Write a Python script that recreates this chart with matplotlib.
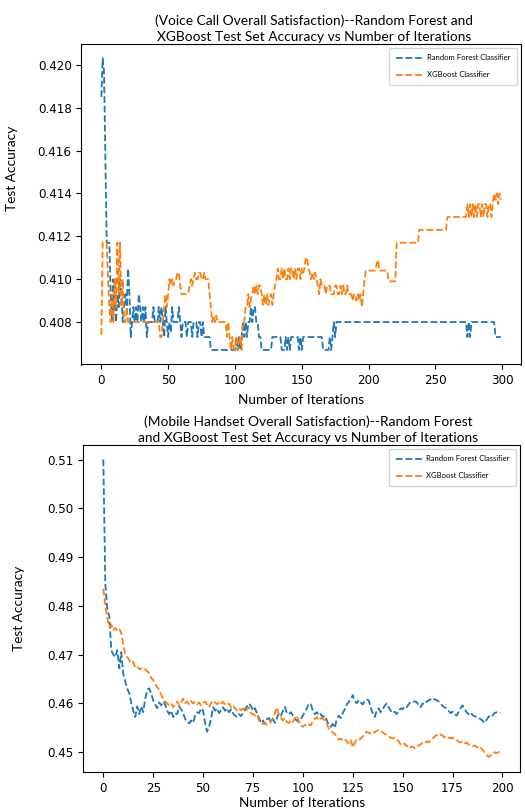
import numpy as np
import matplotlib
matplotlib.use("Agg")
import matplotlib.pyplot as plt

# ---- data: voice call satisfaction (300 iterations) ----
rf_voice = [
    0.4185, 0.4203, 0.4197, 0.4158, 0.4117, 0.4117, 0.4117, 0.4093, 0.4080, 0.4100,
    0.4087, 0.4080, 0.4093, 0.4087, 0.4100, 0.4093, 0.4080, 0.4087, 0.4093, 0.4087,
    0.4105, 0.4093, 0.4073, 0.4080, 0.4087, 0.4080, 0.4087, 0.4080, 0.4093, 0.4087,
    0.4080, 0.4087, 0.4080, 0.4087, 0.4073, 0.4080, 0.4080, 0.4080, 0.4080, 0.4087,
    0.4080, 0.4080, 0.4080, 0.4087, 0.4080, 0.4087, 0.4080, 0.4073, 0.4087, 0.4080,
    0.4073, 0.4080, 0.4075, 0.4087, 0.4080, 0.4080, 0.4080, 0.4080, 0.4087, 0.4080,
    0.4073, 0.4080, 0.4080, 0.4080, 0.4073, 0.4080, 0.4080, 0.4080, 0.4073, 0.4080,
    0.4080, 0.4080, 0.4073, 0.4080, 0.4080, 0.4073, 0.4080, 0.4073, 0.4073, 0.4073,
    0.4073, 0.4073, 0.4067, 0.4067, 0.4067, 0.4067, 0.4067, 0.4067, 0.4067, 0.4067,
    0.4067, 0.4067, 0.4067, 0.4067, 0.4067, 0.4067, 0.4067, 0.4067, 0.4067, 0.4067,
    0.4067, 0.4073, 0.4067, 0.4073, 0.4067, 0.4073, 0.4080, 0.4073, 0.4080, 0.4073,
    0.4080, 0.4080, 0.4087, 0.4080, 0.4087, 0.4087, 0.4080, 0.4080, 0.4073, 0.4073,
    0.4067, 0.4067, 0.4067, 0.4067, 0.4067, 0.4067, 0.4067, 0.4067, 0.4073, 0.4073,
    0.4073, 0.4073, 0.4073, 0.4073, 0.4073, 0.4067, 0.4067, 0.4067, 0.4073, 0.4067,
    0.4073, 0.4067, 0.4073, 0.4073, 0.4073, 0.4073, 0.4073, 0.4073, 0.4067, 0.4073,
    0.4067, 0.4073, 0.4073, 0.4073, 0.4073, 0.4073, 0.4073, 0.4073, 0.4073, 0.4073,
    0.4073, 0.4073, 0.4073, 0.4073, 0.4073, 0.4073, 0.4067, 0.4067, 0.4067, 0.4067,
    0.4067, 0.4073, 0.4067, 0.4073, 0.4080, 0.4073, 0.4080, 0.4080, 0.4080, 0.4080,
    0.4080, 0.4080, 0.4080, 0.4080, 0.4080, 0.4080, 0.4080, 0.4080, 0.4080, 0.4080,
    0.4080, 0.4080, 0.4080, 0.4080, 0.4080, 0.4080, 0.4080, 0.4080, 0.4080, 0.4080,
    0.4080, 0.4080, 0.4080, 0.4080, 0.4080, 0.4080, 0.4080, 0.4080, 0.4080, 0.4080,
    0.4080, 0.4080, 0.4080, 0.4080, 0.4080, 0.4080, 0.4080, 0.4080, 0.4080, 0.4080,
    0.4080, 0.4080, 0.4080, 0.4080, 0.4080, 0.4080, 0.4080, 0.4080, 0.4080, 0.4080,
    0.4080, 0.4080, 0.4080, 0.4080, 0.4080, 0.4080, 0.4080, 0.4080, 0.4080, 0.4080,
    0.4080, 0.4080, 0.4080, 0.4080, 0.4080, 0.4080, 0.4080, 0.4080, 0.4080, 0.4080,
    0.4080, 0.4080, 0.4080, 0.4080, 0.4080, 0.4080, 0.4080, 0.4080, 0.4080, 0.4080,
    0.4080, 0.4080, 0.4080, 0.4080, 0.4080, 0.4080, 0.4080, 0.4080, 0.4080, 0.4080,
    0.4080, 0.4080, 0.4080, 0.4080, 0.4073, 0.4080, 0.4073, 0.4080, 0.4080, 0.4080,
    0.4080, 0.4080, 0.4080, 0.4080, 0.4080, 0.4080, 0.4080, 0.4080, 0.4080, 0.4080,
    0.4080, 0.4080, 0.4080, 0.4080, 0.4080, 0.4073, 0.4073, 0.4073, 0.4073, 0.4073,
]
xgb_voice = [
    0.4074, 0.4117, 0.4117, 0.4117, 0.4117, 0.4100, 0.4087, 0.4080, 0.4093, 0.4080,
    0.4100, 0.4087, 0.4117, 0.4093, 0.4117, 0.4087, 0.4100, 0.4080, 0.4080, 0.4087,
    0.4080, 0.4080, 0.4080, 0.4080, 0.4080, 0.4080, 0.4080, 0.4080, 0.4080, 0.4080,
    0.4080, 0.4080, 0.4080, 0.4080, 0.4080, 0.4080, 0.4080, 0.4080, 0.4080, 0.4080,
    0.4080, 0.4080, 0.4080, 0.4080, 0.4073, 0.4073, 0.4080, 0.4087, 0.4093, 0.4087,
    0.4093, 0.4100, 0.4097, 0.4100, 0.4097, 0.4100, 0.4100, 0.4103, 0.4103, 0.4097,
    0.4093, 0.4093, 0.4093, 0.4093, 0.4093, 0.4093, 0.4097, 0.4100, 0.4097, 0.4100,
    0.4103, 0.4100, 0.4100, 0.4103, 0.4103, 0.4100, 0.4100, 0.4103, 0.4100, 0.4100,
    0.4100, 0.4093, 0.4087, 0.4080, 0.4083, 0.4080, 0.4083, 0.4080, 0.4080, 0.4080,
    0.4080, 0.4080, 0.4080, 0.4080, 0.4073, 0.4080, 0.4073, 0.4067, 0.4073, 0.4067,
    0.4067, 0.4073, 0.4067, 0.4071, 0.4073, 0.4067, 0.4080, 0.4080, 0.4087, 0.4087,
    0.4093, 0.4087, 0.4091, 0.4093, 0.4097, 0.4093, 0.4097, 0.4093, 0.4097, 0.4097,
    0.4093, 0.4088, 0.4093, 0.4088, 0.4093, 0.4088, 0.4091, 0.4093, 0.4088, 0.4093,
    0.4097, 0.4100, 0.4105, 0.4100, 0.4100, 0.4105, 0.4100, 0.4105, 0.4100, 0.4100,
    0.4105, 0.4100, 0.4105, 0.4105, 0.4100, 0.4105, 0.4100, 0.4105, 0.4105, 0.4100,
    0.4105, 0.4103, 0.4105, 0.4110, 0.4110, 0.4105, 0.4103, 0.4100, 0.4103, 0.4100,
    0.4103, 0.4100, 0.4097, 0.4093, 0.4100, 0.4097, 0.4097, 0.4097, 0.4093, 0.4097,
    0.4097, 0.4097, 0.4093, 0.4093, 0.4093, 0.4097, 0.4097, 0.4093, 0.4093, 0.4097,
    0.4093, 0.4097, 0.4093, 0.4093, 0.4097, 0.4093, 0.4093, 0.4093, 0.4090, 0.4093,
    0.4093, 0.4090, 0.4093, 0.4090, 0.4093, 0.4087, 0.4093, 0.4100, 0.4104, 0.4104,
    0.4104, 0.4104, 0.4104, 0.4104, 0.4104, 0.4104, 0.4107, 0.4109, 0.4104, 0.4104,
    0.4104, 0.4104, 0.4104, 0.4104, 0.4104, 0.4099, 0.4099, 0.4099, 0.4099, 0.4099,
    0.4099, 0.4117, 0.4117, 0.4117, 0.4117, 0.4117, 0.4117, 0.4117, 0.4117, 0.4117,
    0.4117, 0.4117, 0.4117, 0.4117, 0.4117, 0.4117, 0.4117, 0.4117, 0.4123, 0.4123,
    0.4123, 0.4123, 0.4123, 0.4123, 0.4123, 0.4123, 0.4123, 0.4123, 0.4123, 0.4123,
    0.4123, 0.4123, 0.4123, 0.4123, 0.4123, 0.4123, 0.4123, 0.4123, 0.4123, 0.4129,
    0.4129, 0.4129, 0.4129, 0.4129, 0.4129, 0.4129, 0.4129, 0.4129, 0.4129, 0.4129,
    0.4129, 0.4129, 0.4129, 0.4129, 0.4135, 0.4129, 0.4135, 0.4129, 0.4135, 0.4129,
    0.4135, 0.4129, 0.4135, 0.4135, 0.4129, 0.4135, 0.4129, 0.4135, 0.4135, 0.4129,
    0.4135, 0.4135, 0.4129, 0.4135, 0.4140, 0.4137, 0.4140, 0.4135, 0.4140, 0.4137,
]

# ---- data: mobile handset satisfaction (200 iterations) ----
rf_handset = [
    0.5100, 0.4845, 0.4792, 0.4778, 0.4709, 0.4700, 0.4695, 0.4709, 0.4672, 0.4705,
    0.4660, 0.4645, 0.4630, 0.4621, 0.4600, 0.4585, 0.4572, 0.4594, 0.4578, 0.4594,
    0.4582, 0.4610, 0.4628, 0.4631, 0.4620, 0.4606, 0.4598, 0.4590, 0.4602, 0.4596,
    0.4604, 0.4598, 0.4585, 0.4578, 0.4585, 0.4572, 0.4580, 0.4578, 0.4594, 0.4588,
    0.4580, 0.4568, 0.4562, 0.4559, 0.4565, 0.4560, 0.4575, 0.4582, 0.4580, 0.4590,
    0.4585, 0.4560, 0.4542, 0.4552, 0.4568, 0.4592, 0.4585, 0.4590, 0.4580, 0.4586,
    0.4592, 0.4585, 0.4590, 0.4582, 0.4588, 0.4580, 0.4575, 0.4572, 0.4578, 0.4574,
    0.4580, 0.4588, 0.4594, 0.4600, 0.4595, 0.4585, 0.4590, 0.4580, 0.4570, 0.4560,
    0.4565, 0.4558, 0.4568, 0.4570, 0.4562, 0.4568, 0.4560, 0.4570, 0.4580, 0.4575,
    0.4585, 0.4593, 0.4580, 0.4578, 0.4582, 0.4575, 0.4568, 0.4565, 0.4562, 0.4568,
    0.4575, 0.4582, 0.4590, 0.4600, 0.4598, 0.4585, 0.4578, 0.4582, 0.4575, 0.4578,
    0.4572, 0.4575, 0.4565, 0.4556, 0.4552, 0.4558, 0.4550, 0.4568, 0.4575, 0.4570,
    0.4580, 0.4588, 0.4598, 0.4603, 0.4608, 0.4617, 0.4605, 0.4600, 0.4607, 0.4602,
    0.4598, 0.4605, 0.4608, 0.4606, 0.4592, 0.4580, 0.4572, 0.4585, 0.4590, 0.4582,
    0.4588, 0.4595, 0.4600, 0.4592, 0.4585, 0.4580, 0.4583, 0.4578, 0.4585, 0.4590,
    0.4588, 0.4594, 0.4592, 0.4598, 0.4603, 0.4603, 0.4604, 0.4603, 0.4596, 0.4592,
    0.4600, 0.4598, 0.4604, 0.4606, 0.4608, 0.4611, 0.4608, 0.4607, 0.4604, 0.4600,
    0.4595, 0.4592, 0.4590, 0.4585, 0.4580, 0.4583, 0.4578, 0.4575, 0.4582, 0.4590,
    0.4596, 0.4588, 0.4582, 0.4578, 0.4582, 0.4576, 0.4574, 0.4572, 0.4570, 0.4568,
    0.4565, 0.4560, 0.4566, 0.4572, 0.4577, 0.4575, 0.4580, 0.4582, 0.4580, 0.4581,
]
xgb_handset = [
    0.4835, 0.4800, 0.4775, 0.4757, 0.4762, 0.4750, 0.4755, 0.4748, 0.4752, 0.4745,
    0.4720, 0.4702, 0.4695, 0.4689, 0.4682, 0.4685, 0.4674, 0.4676, 0.4670, 0.4672,
    0.4668, 0.4670, 0.4666, 0.4662, 0.4652, 0.4648, 0.4640, 0.4633, 0.4628, 0.4618,
    0.4608, 0.4604, 0.4600, 0.4596, 0.4600, 0.4592, 0.4598, 0.4604, 0.4596, 0.4602,
    0.4610, 0.4600, 0.4604, 0.4598, 0.4605, 0.4600, 0.4603, 0.4598, 0.4602, 0.4596,
    0.4600, 0.4604, 0.4598, 0.4592, 0.4600, 0.4606, 0.4602, 0.4598, 0.4604, 0.4600,
    0.4603, 0.4598, 0.4596, 0.4600, 0.4592, 0.4596, 0.4590, 0.4585, 0.4590, 0.4586,
    0.4590, 0.4584, 0.4588, 0.4592, 0.4580, 0.4578, 0.4575, 0.4578, 0.4565, 0.4560,
    0.4558, 0.4560, 0.4556, 0.4558, 0.4562, 0.4570, 0.4580, 0.4592, 0.4575, 0.4570,
    0.4565, 0.4570, 0.4562, 0.4560, 0.4566, 0.4562, 0.4570, 0.4575, 0.4562, 0.4555,
    0.4552, 0.4556, 0.4553, 0.4557, 0.4555, 0.4565, 0.4568, 0.4572, 0.4565, 0.4570,
    0.4568, 0.4566, 0.4558, 0.4548, 0.4545, 0.4540, 0.4538, 0.4530, 0.4526, 0.4528,
    0.4524, 0.4527, 0.4522, 0.4518, 0.4525, 0.4510, 0.4520, 0.4526, 0.4524, 0.4528,
    0.4532, 0.4538, 0.4542, 0.4540, 0.4538, 0.4542, 0.4540, 0.4544, 0.4546, 0.4544,
    0.4540, 0.4538, 0.4535, 0.4532, 0.4530, 0.4528, 0.4530, 0.4526, 0.4522, 0.4516,
    0.4514, 0.4518, 0.4512, 0.4515, 0.4510, 0.4512, 0.4508, 0.4511, 0.4514, 0.4516,
    0.4520, 0.4518, 0.4522, 0.4520, 0.4525, 0.4528, 0.4532, 0.4535, 0.4533, 0.4536,
    0.4534, 0.4530, 0.4532, 0.4530, 0.4528, 0.4530, 0.4527, 0.4525, 0.4522, 0.4520,
    0.4522, 0.4518, 0.4520, 0.4516, 0.4514, 0.4512, 0.4514, 0.4511, 0.4508, 0.4510,
    0.4505, 0.4500, 0.4495, 0.4490, 0.4493, 0.4497, 0.4500, 0.4498, 0.4500, 0.4500,
]

labels = ["Random Forest Classifier", "XGBoost Classifier"]
titles = [
    "(Voice Call Overall Satisfaction)--Random Forest and\n"
    "XGBoost Test Set Accuracy vs Number of Iterations",
    "(Mobile Handset Overall Satisfaction)--Random Forest\n"
    "and XGBoost Test Set Accuracy vs Number of Iterations",
]

txt_font = "Lato"
fig = plt.figure(figsize=(5.25, 8.1), dpi=100)

ax1 = fig.add_axes([0.155, 0.550, 0.837, 0.396])
ax2 = fig.add_axes([0.159, 0.047, 0.832, 0.404])

panels = [
    (ax1, rf_voice, xgb_voice, titles[0], 0.53, 0.61, -0.145, 5),
    (ax2, rf_handset, xgb_handset, titles[1], 0.515, 0.50, -0.135, 2),
]

for ax, rf, xgb, title, tx, ly, lx, lpad in panels:
    ax.plot(np.arange(len(rf)), rf, linestyle="--", color="#1f77b4", lw=1.3,
            label=labels[0])
    ax.plot(np.arange(len(xgb)), xgb, linestyle="--", color="#ff7f0e", lw=1.3,
            label=labels[1])
    ax.set_title(title, fontsize=9.9, family=txt_font, x=tx, pad=2,
                 linespacing=1.4)
    ax.set_xlabel("Number of Iterations", fontsize=9.8, family=txt_font,
                  labelpad=lpad)
    ax.set_ylabel("Test Accuracy", fontsize=9.8, family=txt_font)
    ax.yaxis.set_label_coords(lx, ly)
    ax.tick_params(labelsize=8.6)
    ax.legend(loc="upper right", prop={"family": txt_font, "size": 5.5},
              handlelength=3.6, handletextpad=0.4, labelspacing=1.3,
              borderpad=0.9, borderaxespad=0.5)

ax1.set_yticks(np.arange(0.408, 0.4205, 0.002))
ax1.set_yticklabels([f"{v:.3f}" for v in np.arange(0.408, 0.4205, 0.002)])

fig.savefig("out.png", dpi=100)
